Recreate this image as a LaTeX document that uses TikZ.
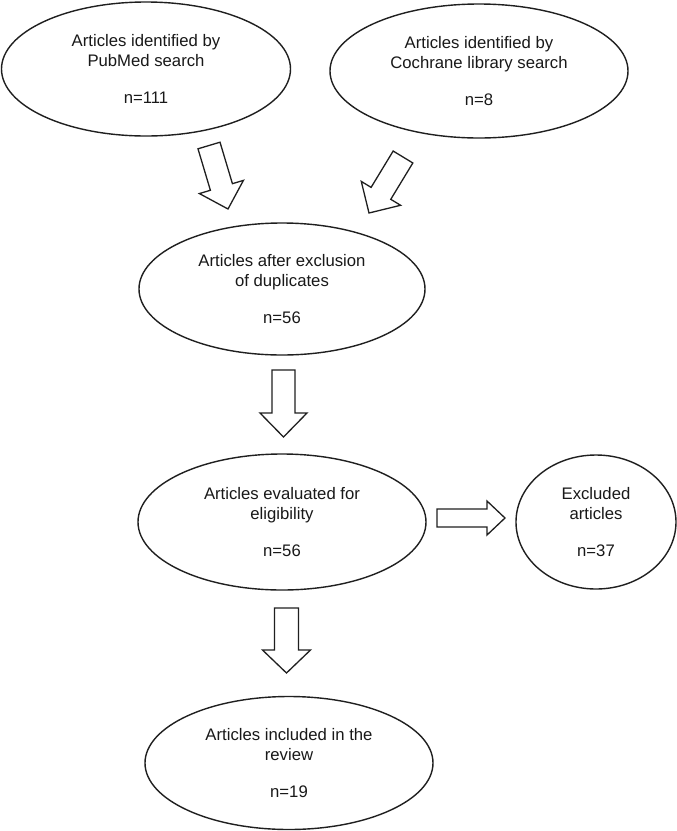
\documentclass[tikz,border=0pt]{standalone}
\usepackage{fontspec}
\setmainfont{Liberation Sans}
\usetikzlibrary{shapes.geometric,calc}
\tikzset{
  oval/.style={ellipse,draw=black!88,line width=1.4pt,inner sep=0pt,align=center,
    font=\fontsize{16.7}{20}\selectfont,text=black!90},
  blockline/.style={draw=black!88,line width=1.3pt,line join=miter,fill=white},
}
\newcommand\blockarr[5]{%
  \coordinate (hb) at ($(#2)!#5!(#1)$);
  \draw[blockline] ($(#1)!#3!90:(#2)$) -- ($(hb)!#3!90:(#2)$) -- ($(hb)!#4!90:(#2)$)
    -- (#2) -- ($(hb)!#4!-90:(#2)$) -- ($(hb)!#3!-90:(#2)$) -- ($(#1)!#3!-90:(#2)$) -- cycle;
}
\begin{document}
\begin{tikzpicture}[x=1pt,y=-1pt]
\useasboundingbox (0,0) rectangle (677,831);
\fill[white] (0,0) rectangle (677,831);

\node[oval,minimum width=289pt,minimum height=134pt] (pub) at (146,69)
  {Articles identified by\\PubMed search\\[17pt]n=111};
\node[oval,minimum width=298pt,minimum height=134pt] (coch) at (479,71)
  {Articles identified by\\Cochrane library search\\[17pt]n=8};
\node[oval,minimum width=286pt,minimum height=132pt] (dup) at (282,289)
  {Articles after exclusion\\of duplicates\\[17pt]n=56};
\node[oval,minimum width=288pt,minimum height=136pt] (elig) at (282,522)
  {Articles evaluated for\\eligibility\\[17pt]n=56};
\node[oval,minimum width=160pt,minimum height=134pt] (excl) at (596,522)
  {Excluded\\articles\\[17pt]n=37};
\node[oval,minimum width=288pt,minimum height=133pt] (incl) at (289,763)
  {Articles included in the\\review\\[17pt]n=19};

\coordinate (a1s) at (209,145.5);  \coordinate (a1e) at (228,209);
\coordinate (a2s) at (403,157);    \coordinate (a2e) at (369,213);
\coordinate (a3s) at (283.5,370);  \coordinate (a3e) at (283.5,437);
\coordinate (a4s) at (286.5,608);  \coordinate (a4e) at (286.5,673);
\coordinate (a5s) at (437,518);    \coordinate (a5e) at (505,518);

\blockarr{a1s}{a1e}{11.5pt}{23pt}{23pt}
\blockarr{a2s}{a2e}{11.5pt}{23pt}{23pt}
\blockarr{a3s}{a3e}{11.5pt}{23.5pt}{24pt}
\blockarr{a4s}{a4e}{12pt}{24pt}{23pt}
\blockarr{a5s}{a5e}{9pt}{17pt}{18pt}
\end{tikzpicture}
\end{document}
